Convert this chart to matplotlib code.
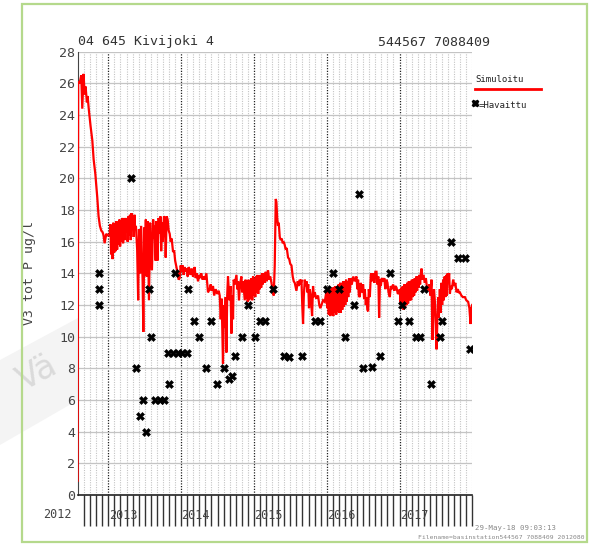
import numpy as np
import matplotlib
matplotlib.use('Agg')
import matplotlib.pyplot as plt
from matplotlib.patches import Rectangle, Polygon
from matplotlib.transforms import blended_transform_factory

# simulated total P (decimal year, ug/l)
sim_year = [2012.578, 2012.586, 2012.605, 2012.628, 2012.642, 2012.660, 2012.674, 2012.688, 2012.705, 2012.715,
            2012.733, 2012.756, 2012.780, 2012.798, 2012.821, 2012.848, 2012.866, 2012.884, 2012.903, 2012.921,
            2012.935, 2012.949, 2012.972, 2012.990, 2013.017,
            2013.029, 2013.038, 2013.049, 2013.059, 2013.070, 2013.080, 2013.091, 2013.100, 2013.111, 2013.121,
            2013.132, 2013.142, 2013.153, 2013.162, 2013.173, 2013.183, 2013.194, 2013.203, 2013.214, 2013.224,
            2013.235, 2013.245, 2013.256, 2013.265, 2013.276, 2013.286, 2013.297, 2013.307, 2013.318, 2013.327,
            2013.338, 2013.348, 2013.359, 2013.368, 2013.379,
            2013.396, 2013.410, 2013.421, 2013.437, 2013.451, 2013.471, 2013.481, 2013.495, 2013.506, 2013.515,
            2013.525, 2013.540, 2013.558, 2013.575, 2013.586, 2013.599, 2013.616, 2013.627, 2013.636, 2013.650,
            2013.661, 2013.674, 2013.691, 2013.705, 2013.716, 2013.726, 2013.737, 2013.749, 2013.764, 2013.778,
            2013.788, 2013.801, 2013.815, 2013.829, 2013.843, 2013.856, 2013.870, 2013.888, 2013.905, 2013.918,
            2013.935, 2013.953, 2013.966, 2013.980, 2013.994, 2014.008, 2014.021, 2014.035, 2014.049, 2014.063,
            2014.076, 2014.090, 2014.104, 2014.118, 2014.131, 2014.145, 2014.163, 2014.173, 2014.186, 2014.200,
            2014.214, 2014.232, 2014.248, 2014.262, 2014.276, 2014.296, 2014.310, 2014.324, 2014.347, 2014.369,
            2014.392, 2014.406, 2014.420, 2014.438, 2014.454, 2014.475, 2014.496, 2014.516, 2014.530, 2014.544,
            2014.557, 2014.575, 2014.589, 2014.599, 2014.612, 2014.622, 2014.633, 2014.644, 2014.656, 2014.667,
            2014.678, 2014.691, 2014.705, 2014.713, 2014.722, 2014.736, 2014.760, 2014.771, 2014.782, 2014.795,
            2014.809, 2014.828, 2014.839, 2014.853, 2014.874,
            2014.885, 2014.894, 2014.905, 2014.915, 2014.926, 2014.935, 2014.946, 2014.956, 2014.967, 2014.977,
            2014.988, 2014.997, 2015.008, 2015.018, 2015.029, 2015.039, 2015.050, 2015.059, 2015.070, 2015.080,
            2015.091, 2015.100, 2015.111, 2015.121, 2015.135, 2015.149, 2015.162, 2015.176, 2015.194, 2015.210,
            2015.224, 2015.241, 2015.259, 2015.272, 2015.286, 2015.300, 2015.309, 2015.320, 2015.331, 2015.341,
            2015.355, 2015.368, 2015.382, 2015.396, 2015.410, 2015.423, 2015.437, 2015.451, 2015.469, 2015.485,
            2015.499, 2015.516, 2015.533, 2015.547, 2015.561, 2015.584, 2015.602, 2015.616, 2015.630, 2015.643,
            2015.653, 2015.664, 2015.675, 2015.685, 2015.698, 2015.712, 2015.722, 2015.733, 2015.746, 2015.757,
            2015.767, 2015.781, 2015.799, 2015.812, 2015.826, 2015.836, 2015.856, 2015.881, 2015.898, 2015.911,
            2015.928, 2015.950, 2015.973, 2015.997,
            2016.008, 2016.019, 2016.028, 2016.039, 2016.049, 2016.060, 2016.070, 2016.081, 2016.090, 2016.101,
            2016.111, 2016.122, 2016.131, 2016.142, 2016.152, 2016.163, 2016.173, 2016.184, 2016.193, 2016.204,
            2016.214, 2016.225, 2016.234, 2016.245, 2016.255, 2016.266, 2016.276, 2016.287, 2016.296, 2016.307,
            2016.317, 2016.331, 2016.344, 2016.365, 2016.386, 2016.409, 2016.420, 2016.431, 2016.441, 2016.454,
            2016.468, 2016.482, 2016.500, 2016.514, 2016.523, 2016.537, 2016.547, 2016.558, 2016.569, 2016.578,
            2016.592, 2016.606, 2016.615, 2016.626, 2016.640, 2016.654, 2016.668, 2016.684, 2016.695, 2016.709,
            2016.720, 2016.732, 2016.743, 2016.757, 2016.775, 2016.791, 2016.805, 2016.821, 2016.835, 2016.849,
            2016.867, 2016.880, 2016.894, 2016.912, 2016.929, 2016.942, 2016.959, 2016.977, 2016.995,
            2017.004, 2017.015, 2017.025, 2017.036, 2017.045, 2017.056, 2017.066, 2017.077, 2017.087, 2017.098,
            2017.107, 2017.118, 2017.128, 2017.139, 2017.149, 2017.160, 2017.169, 2017.180, 2017.190, 2017.201,
            2017.210, 2017.221, 2017.231, 2017.242, 2017.252, 2017.263, 2017.272, 2017.283, 2017.293, 2017.303,
            2017.314, 2017.327, 2017.348, 2017.362, 2017.375, 2017.393, 2017.410, 2017.424, 2017.440, 2017.448,
            2017.454, 2017.465, 2017.474, 2017.485, 2017.499, 2017.509, 2017.520, 2017.531, 2017.540, 2017.554,
            2017.565, 2017.575, 2017.586, 2017.599, 2017.609, 2017.620, 2017.630, 2017.641, 2017.650, 2017.661,
            2017.671, 2017.682, 2017.692, 2017.705, 2017.719, 2017.737, 2017.753, 2017.767, 2017.784, 2017.802,
            2017.815, 2017.829, 2017.850, 2017.870, 2017.898, 2017.918, 2017.943, 2017.960, 2017.976, 2017.987,
            2017.998]
sim_val = [0.9, 26.1, 26.0, 26.5, 24.4, 26.6, 25.3, 25.8, 24.8, 25.2,
           24.3, 23.3, 22.4, 21.2, 20.3, 18.8, 17.6, 17.0, 16.7, 16.6,
           16.4, 15.9, 16.5, 16.4, 16.4,
           17.1, 15.2, 17.0, 14.9, 17.2, 15.3, 17.1, 15.4, 17.3, 15.5,
           17.0, 15.8, 17.4, 15.7, 17.3, 16.0, 17.5, 15.9, 17.4, 16.1,
           17.5, 16.6, 17.4, 16.0, 17.6, 16.4, 17.7, 16.1, 17.8, 16.8,
           17.6, 16.3, 17.7, 16.8, 17.0,
           15.5, 12.3, 16.8, 14.0, 17.0, 13.5, 10.3, 16.9, 15.0, 17.4,
           13.8, 17.3, 12.3, 17.2, 15.5, 14.2, 17.4, 16.2, 17.0, 14.8,
           17.3, 14.8, 17.5, 16.5, 17.6, 15.4, 17.2, 16.0, 17.6, 17.5,
           15.0, 17.6, 17.4, 16.7, 16.5, 16.0, 16.2, 15.4, 15.4, 14.8,
           14.4, 14.0, 13.6, 13.7, 14.5, 14.1, 14.5, 13.9, 14.4, 14.1,
           14.3, 13.8, 14.4, 14.2, 13.9, 14.3, 13.8, 14.2, 14.4, 13.7,
           14.0, 13.5, 13.9, 13.7, 14.0, 13.6, 13.8, 13.6, 14.0, 12.8,
           13.0, 13.3, 12.9, 13.2, 12.6, 13.0, 12.7, 12.9, 12.6, 11.1,
           12.4, 8.3, 12.0, 10.6, 12.5, 9.0, 12.6, 13.8, 12.8, 12.3,
           13.2, 10.2, 12.6, 11.1, 13.6, 13.3, 13.9, 13.0, 13.5, 12.3,
           13.3, 13.8, 12.8, 13.5, 12.3,
           13.6, 12.4, 13.5, 12.2, 13.6, 12.3, 13.5, 12.4, 13.7, 12.3,
           13.8, 12.6, 13.7, 12.5, 13.8, 12.8, 13.9, 12.7, 13.8, 13.0,
           13.9, 13.1, 14.0, 13.3, 14.0, 13.4, 14.1, 13.5, 14.2, 13.6,
           13.8, 13.4, 12.9, 12.6, 14.5, 18.7, 18.5, 17.5, 17.0, 17.2,
           16.3, 16.1, 16.2, 15.9, 16.0, 15.8, 15.5, 15.6, 15.0, 14.9,
           14.6, 14.5, 13.8, 13.5, 13.4, 12.9, 13.5, 13.2, 13.6, 13.3,
           13.6, 12.0, 10.8, 12.5, 13.6, 13.2, 13.5, 12.8, 13.3, 11.8,
           13.0, 12.6, 11.3, 13.2, 12.5, 12.8, 12.4, 12.6, 12.0, 11.8,
           12.0, 12.3, 12.2, 12.9,
           11.8, 13.0, 11.4, 12.9, 11.3, 13.0, 11.4, 13.1, 11.3, 13.1,
           11.5, 13.2, 11.4, 13.2, 11.6, 13.3, 11.5, 13.4, 11.5, 13.4,
           11.7, 13.5, 11.9, 13.5, 12.0, 13.6, 12.2, 13.5, 12.5, 13.7,
           12.8, 13.7, 13.3, 13.8, 13.5, 13.8, 13.0, 13.6, 12.6, 12.5,
           13.4, 12.8, 13.3, 12.4, 13.0, 12.0, 12.5, 11.7, 11.6, 13.0,
           12.5, 13.9, 14.0, 13.5, 14.0, 13.4, 14.1, 14.1, 13.3, 13.8,
           11.2, 13.6, 13.2, 13.7, 13.5, 13.7, 13.0, 13.6, 13.4, 12.8,
           12.5, 13.2, 13.0, 13.3, 12.9, 13.2, 13.1, 12.7, 12.8,
           13.0, 12.0, 13.1, 11.8, 13.2, 11.7, 13.3, 11.9, 13.3, 12.0,
           13.4, 12.1, 13.5, 12.3, 13.5, 12.3, 13.6, 12.5, 13.6, 12.6,
           13.7, 12.8, 13.8, 12.9, 13.8, 13.1, 13.9, 13.3, 14.0, 14.3,
           13.6, 13.9, 13.4, 13.7, 13.2, 12.9, 13.3, 12.6, 13.6, 11.0,
           9.8, 12.0, 13.0, 12.3, 10.5, 9.2, 11.0, 12.5, 11.2, 13.0,
           11.5, 13.4, 12.0, 13.6, 12.3, 13.8, 12.5, 13.9, 12.6, 14.0,
           13.5, 14.0, 12.7, 13.2, 13.0, 13.6, 13.2, 13.4, 12.8, 13.0,
           12.8, 12.8, 12.6, 12.5, 12.5, 12.3, 12.2, 11.8, 10.8, 11.8,
           12.0]

# observed samples
obs_year = [2012.867, 2012.867, 2012.867, 2013.307, 2013.379, 2013.434, 2013.478, 2013.513, 2013.554, 2013.591,
            2013.643, 2013.705, 2013.760, 2013.822, 2013.839, 2013.891, 2013.918, 2013.953, 2014.014, 2014.076,
            2014.094, 2014.177, 2014.241, 2014.338, 2014.410, 2014.493, 2014.585, 2014.658, 2014.705, 2014.740,
            2014.832, 2014.915, 2015.011, 2015.084, 2015.158, 2015.263, 2015.410, 2015.488, 2015.661, 2015.836,
            2015.914, 2016.001, 2016.083, 2016.173, 2016.252, 2016.372, 2016.445, 2016.500, 2016.619, 2016.733,
            2016.871, 2016.986, 2017.041, 2017.132, 2017.220, 2017.275, 2017.334, 2017.426, 2017.554, 2017.582,
            2017.705, 2017.802, 2017.898, 2017.966]
obs_val = [14, 13, 12, 20, 8, 5, 6, 4, 13, 10,
           6, 6, 6, 9, 7, 9, 14, 9, 9, 9,
           13, 11, 10, 8, 11, 7, 8, 7.3, 7.5, 8.8,
           10, 12, 10, 11, 11, 13, 8.8, 8.7, 8.8, 11,
           11, 13, 14, 13, 10, 12, 19, 8, 8.1, 8.8,
           14, 11, 12, 11, 10, 10, 13, 7, 10, 11,
           16, 15, 15, 9.2]

years = [2013, 2014, 2015, 2016, 2017]
y_ticks = list(range(0, 29, 2))

W, H = 591, 544
fig = plt.figure(figsize=(W / 100, H / 100), dpi=100)
mono = 'DejaVu Sans Mono'

def px(x, y):
    return x / W, 1 - y / H

# watermark band + frame (behind the axes)
fig.patches.append(Polygon([px(0, 360), px(78, 318), px(78, 400), px(0, 445)], closed=True,
                           transform=fig.transFigure, facecolor='#f4f4f4', edgecolor='none', zorder=-3))
fig.text(*px(12, 390), 'Vä', fontsize=24, color='#dadada', rotation=28, family='DejaVu Sans', zorder=-2)
fig.patches.append(Rectangle(px(22, 542), 565 / W, 538 / H, transform=fig.transFigure,
                             fill=False, edgecolor='#b5d98c', linewidth=1.6, zorder=5))

ax = fig.add_axes([78 / W, 1 - 495 / H, 394.3 / W, 443.3 / H])
ax.patch.set_alpha(0)
x0, x1 = 2012 + 7 / 12, 2018.0
ax.set_xlim(x0, x1)
ax.set_ylim(0, 28)

months = np.arange(8, 12 * 6 + 1) / 12 + 2012
months = months[months <= x1 + 1e-6]
for m in months:
    if abs(m - round(m)) < 1e-6 and round(m) in years:
        ax.axvline(m, color='#222222', lw=0.9, ls=(0, (1, 1.2)), zorder=1)
    else:
        ax.axvline(m, color='#c4c4c4', lw=0.8, ls=(0, (1, 1.2)), zorder=1)
for v in y_ticks:
    ax.axhline(v, color='#c4c4c4', lw=0.9, zorder=1)

ax.plot(sim_year, sim_val, color='#ff0000', lw=1.6, zorder=3, solid_joinstyle='miter')
ax.plot(obs_year, obs_val, ls='none', marker='X', ms=5.5, color='black', mec='black', mew=0.4, zorder=4)

ax.set_xticks(list(months))
ax.set_xticklabels([])
ax.tick_params(axis='x', direction='out', length=22, width=1.0, color='#333333')
ax.set_yticks(y_ticks)
ax.set_yticklabels([str(v) for v in y_ticks], family=mono, fontsize=9.5, color='#444444')
ax.tick_params(axis='y', length=0, pad=2)
for s in ['top', 'right']:
    ax.spines[s].set_visible(False)
ax.spines['bottom'].set_color('#222222')
ax.spines['left'].set_color('#444444')
ax.spines['bottom'].set_linewidth(1.2)

tr = blended_transform_factory(ax.transData, ax.transAxes)
for yr in years:
    ax.text(yr + 0.005, -0.046, str(yr), transform=tr, ha='left', va='center',
            family=mono, fontsize=8.5, color='#444444')
fig.text(*px(72, 515), '2012', ha='right', va='center', family=mono, fontsize=8.5, color='#444444')

ax.set_ylabel('V3 tot P ug/l', family=mono, fontsize=9.5, color='#444444', labelpad=17)

fig.text(*px(78, 42), '04 645 Kivijoki 4', ha='left', va='center', family=mono, fontsize=9.5, color='#333333')
fig.text(*px(490, 42), '544567 7088409', ha='right', va='center', family=mono, fontsize=9.5, color='#333333')

# legend
fig.text(*px(475, 80), 'Simuloitu', ha='left', va='center', family=mono, fontsize=6.5, color='#222222')
fig.lines.append(plt.Line2D([475 / W, 541 / W], [1 - 88.5 / H, 1 - 88.5 / H], transform=fig.transFigure,
                            color='#ff0000', lw=2.0))
fig.lines.append(plt.Line2D([475 / W], [1 - 102.5 / H], transform=fig.transFigure, ls='none',
                            marker='X', ms=5, color='black'))
fig.text(*px(479, 106), '=Havaittu', ha='left', va='center', family=mono, fontsize=6.5, color='#222222')

fig.text(*px(475, 528), '29-May-18 09:03:13', ha='left', va='center', family=mono, fontsize=5.3, color='#888888')
fig.text(*px(418, 537.5), 'Filename=basinstation544567 7088409 2012080', ha='left', va='center',
         family=mono, fontsize=4.6, color='#888888')

fig.savefig('out.png', dpi=100, facecolor='white')
